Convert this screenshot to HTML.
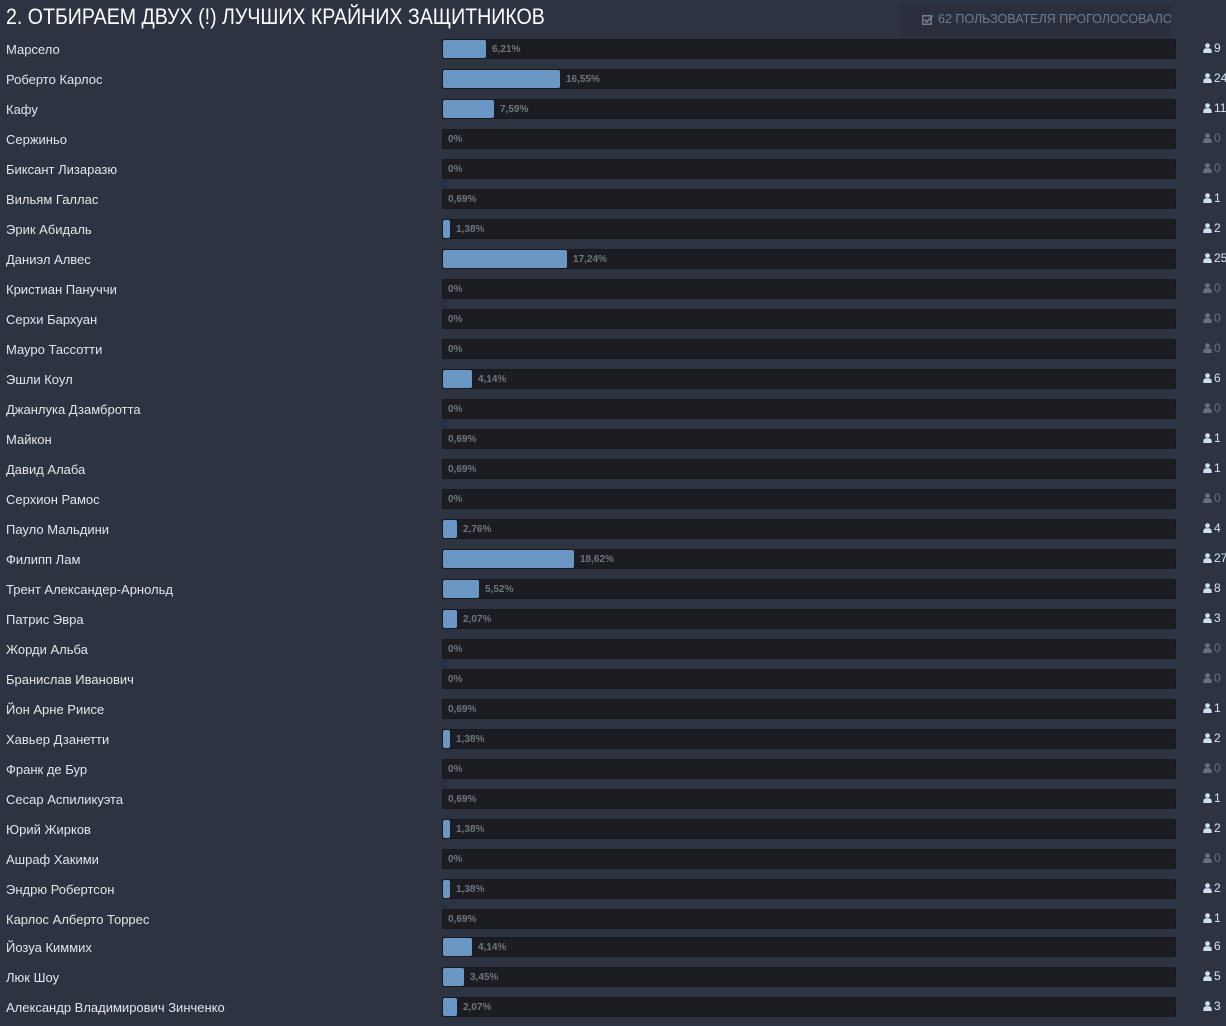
<!DOCTYPE html>
<html><head><meta charset="utf-8">
<style>
html,body{margin:0;padding:0;}
body{width:1226px;height:1026px;background:#2d3340;position:relative;overflow:hidden;font-family:"Liberation Sans","Noto Sans CJK SC",sans-serif;}
.title{position:absolute;left:6px;top:6px;font-size:22px;line-height:22px;color:#ffffff;white-space:nowrap;transform:scaleX(0.89);transform-origin:0 0;}
.box{position:absolute;left:900px;top:5px;width:271px;height:31px;background:#2a2f3b;overflow:hidden;}
.box .t{position:absolute;left:38px;top:6.5px;font-size:12.5px;line-height:14px;color:#6f7b8c;white-space:nowrap;}
.box svg{position:absolute;left:22px;top:9px;}
.row{position:absolute;left:0;width:1226px;height:20px;}
.lbl{position:absolute;left:6px;top:1px;font-size:13px;line-height:20px;color:#e2e5ea;white-space:nowrap;}
.bar{position:absolute;left:442px;top:0;width:734px;height:20px;background:#1c1d22;border-radius:2px;box-shadow:inset 0 0 0 1px #18191d;}
.fill{position:absolute;left:1px;top:1px;height:18px;background:#6b97c4;border-radius:2px;}
.pct{position:absolute;top:1px;font-size:10px;line-height:20px;font-weight:bold;color:#6f757e;white-space:nowrap;}
.cnt{position:absolute;left:1203px;top:-1px;width:23px;height:20px;font-size:12px;line-height:20px;white-space:nowrap;}
.cnt svg{position:absolute;left:0;top:5px;}
.cnt span{position:absolute;left:11px;top:0;}
.on{color:#d5e3f4;}
.on svg path,.on svg circle{fill:#cfdff2;}
.off{color:#6a707a;}
.off svg path,.off svg circle{fill:#6a707a;}
</style></head><body>
<div class="title">2. ОТБИРАЕМ ДВУХ (!) ЛУЧШИХ КРАЙНИХ ЗАЩИТНИКОВ</div>
<div class="box">
<svg width="12" height="11" viewBox="0 0 12 11"><rect x="0.75" y="1.75" width="8.5" height="8.5" fill="none" stroke="#6f7b8c" stroke-width="1.5"/><path d="M2.5 5.5 L4.8 8 L10.5 1.5" fill="none" stroke="#6f7b8c" stroke-width="1.8"/></svg>
<div class="t">62 ПОЛЬЗОВАТЕЛЯ ПРОГОЛОСОВАЛО</div>
</div>

<div class="row" style="top:39px"><div class="lbl">Марсело</div><div class="bar"><div class="fill" style="width:43px"></div></div><div class="pct" style="left:492px">6,21%</div><div class="cnt on"><svg width="9" height="10" viewBox="0 0 9 10"><circle cx="4.5" cy="2.6" r="2.4"/><path d="M0.3 10 L0.3 8 Q0.6 5.4 3 5.2 L6 5.2 Q8.4 5.4 8.7 8 L8.7 10 Z"/></svg><span>9</span></div></div>
<div class="row" style="top:69px"><div class="lbl">Роберто Карлос</div><div class="bar"><div class="fill" style="width:117px"></div></div><div class="pct" style="left:566px">16,55%</div><div class="cnt on"><svg width="9" height="10" viewBox="0 0 9 10"><circle cx="4.5" cy="2.6" r="2.4"/><path d="M0.3 10 L0.3 8 Q0.6 5.4 3 5.2 L6 5.2 Q8.4 5.4 8.7 8 L8.7 10 Z"/></svg><span>24</span></div></div>
<div class="row" style="top:99px"><div class="lbl">Кафу</div><div class="bar"><div class="fill" style="width:51px"></div></div><div class="pct" style="left:500px">7,59%</div><div class="cnt on"><svg width="9" height="10" viewBox="0 0 9 10"><circle cx="4.5" cy="2.6" r="2.4"/><path d="M0.3 10 L0.3 8 Q0.6 5.4 3 5.2 L6 5.2 Q8.4 5.4 8.7 8 L8.7 10 Z"/></svg><span>11</span></div></div>
<div class="row" style="top:129px"><div class="lbl">Сержиньо</div><div class="bar"></div><div class="pct" style="left:448px">0%</div><div class="cnt off"><svg width="9" height="10" viewBox="0 0 9 10"><circle cx="4.5" cy="2.6" r="2.4"/><path d="M0.3 10 L0.3 8 Q0.6 5.4 3 5.2 L6 5.2 Q8.4 5.4 8.7 8 L8.7 10 Z"/></svg><span>0</span></div></div>
<div class="row" style="top:159px"><div class="lbl">Биксант Лизаразю</div><div class="bar"></div><div class="pct" style="left:448px">0%</div><div class="cnt off"><svg width="9" height="10" viewBox="0 0 9 10"><circle cx="4.5" cy="2.6" r="2.4"/><path d="M0.3 10 L0.3 8 Q0.6 5.4 3 5.2 L6 5.2 Q8.4 5.4 8.7 8 L8.7 10 Z"/></svg><span>0</span></div></div>
<div class="row" style="top:189px"><div class="lbl">Вильям Галлас</div><div class="bar"></div><div class="pct" style="left:448px">0,69%</div><div class="cnt on"><svg width="9" height="10" viewBox="0 0 9 10"><circle cx="4.5" cy="2.6" r="2.4"/><path d="M0.3 10 L0.3 8 Q0.6 5.4 3 5.2 L6 5.2 Q8.4 5.4 8.7 8 L8.7 10 Z"/></svg><span>1</span></div></div>
<div class="row" style="top:219px"><div class="lbl">Эрик Абидаль</div><div class="bar"><div class="fill" style="width:7px"></div></div><div class="pct" style="left:456px">1,38%</div><div class="cnt on"><svg width="9" height="10" viewBox="0 0 9 10"><circle cx="4.5" cy="2.6" r="2.4"/><path d="M0.3 10 L0.3 8 Q0.6 5.4 3 5.2 L6 5.2 Q8.4 5.4 8.7 8 L8.7 10 Z"/></svg><span>2</span></div></div>
<div class="row" style="top:249px"><div class="lbl">Даниэл Алвес</div><div class="bar"><div class="fill" style="width:124px"></div></div><div class="pct" style="left:573px">17,24%</div><div class="cnt on"><svg width="9" height="10" viewBox="0 0 9 10"><circle cx="4.5" cy="2.6" r="2.4"/><path d="M0.3 10 L0.3 8 Q0.6 5.4 3 5.2 L6 5.2 Q8.4 5.4 8.7 8 L8.7 10 Z"/></svg><span>25</span></div></div>
<div class="row" style="top:279px"><div class="lbl">Кристиан Пануччи</div><div class="bar"></div><div class="pct" style="left:448px">0%</div><div class="cnt off"><svg width="9" height="10" viewBox="0 0 9 10"><circle cx="4.5" cy="2.6" r="2.4"/><path d="M0.3 10 L0.3 8 Q0.6 5.4 3 5.2 L6 5.2 Q8.4 5.4 8.7 8 L8.7 10 Z"/></svg><span>0</span></div></div>
<div class="row" style="top:309px"><div class="lbl">Серхи Бархуан</div><div class="bar"></div><div class="pct" style="left:448px">0%</div><div class="cnt off"><svg width="9" height="10" viewBox="0 0 9 10"><circle cx="4.5" cy="2.6" r="2.4"/><path d="M0.3 10 L0.3 8 Q0.6 5.4 3 5.2 L6 5.2 Q8.4 5.4 8.7 8 L8.7 10 Z"/></svg><span>0</span></div></div>
<div class="row" style="top:339px"><div class="lbl">Мауро Тассотти</div><div class="bar"></div><div class="pct" style="left:448px">0%</div><div class="cnt off"><svg width="9" height="10" viewBox="0 0 9 10"><circle cx="4.5" cy="2.6" r="2.4"/><path d="M0.3 10 L0.3 8 Q0.6 5.4 3 5.2 L6 5.2 Q8.4 5.4 8.7 8 L8.7 10 Z"/></svg><span>0</span></div></div>
<div class="row" style="top:369px"><div class="lbl">Эшли Коул</div><div class="bar"><div class="fill" style="width:29px"></div></div><div class="pct" style="left:478px">4,14%</div><div class="cnt on"><svg width="9" height="10" viewBox="0 0 9 10"><circle cx="4.5" cy="2.6" r="2.4"/><path d="M0.3 10 L0.3 8 Q0.6 5.4 3 5.2 L6 5.2 Q8.4 5.4 8.7 8 L8.7 10 Z"/></svg><span>6</span></div></div>
<div class="row" style="top:399px"><div class="lbl">Джанлука Дзамбротта</div><div class="bar"></div><div class="pct" style="left:448px">0%</div><div class="cnt off"><svg width="9" height="10" viewBox="0 0 9 10"><circle cx="4.5" cy="2.6" r="2.4"/><path d="M0.3 10 L0.3 8 Q0.6 5.4 3 5.2 L6 5.2 Q8.4 5.4 8.7 8 L8.7 10 Z"/></svg><span>0</span></div></div>
<div class="row" style="top:429px"><div class="lbl">Майкон</div><div class="bar"></div><div class="pct" style="left:448px">0,69%</div><div class="cnt on"><svg width="9" height="10" viewBox="0 0 9 10"><circle cx="4.5" cy="2.6" r="2.4"/><path d="M0.3 10 L0.3 8 Q0.6 5.4 3 5.2 L6 5.2 Q8.4 5.4 8.7 8 L8.7 10 Z"/></svg><span>1</span></div></div>
<div class="row" style="top:459px"><div class="lbl">Давид Алаба</div><div class="bar"></div><div class="pct" style="left:448px">0,69%</div><div class="cnt on"><svg width="9" height="10" viewBox="0 0 9 10"><circle cx="4.5" cy="2.6" r="2.4"/><path d="M0.3 10 L0.3 8 Q0.6 5.4 3 5.2 L6 5.2 Q8.4 5.4 8.7 8 L8.7 10 Z"/></svg><span>1</span></div></div>
<div class="row" style="top:489px"><div class="lbl">Серхион Рамос</div><div class="bar"></div><div class="pct" style="left:448px">0%</div><div class="cnt off"><svg width="9" height="10" viewBox="0 0 9 10"><circle cx="4.5" cy="2.6" r="2.4"/><path d="M0.3 10 L0.3 8 Q0.6 5.4 3 5.2 L6 5.2 Q8.4 5.4 8.7 8 L8.7 10 Z"/></svg><span>0</span></div></div>
<div class="row" style="top:519px"><div class="lbl">Пауло Мальдини</div><div class="bar"><div class="fill" style="width:14px"></div></div><div class="pct" style="left:463px">2,76%</div><div class="cnt on"><svg width="9" height="10" viewBox="0 0 9 10"><circle cx="4.5" cy="2.6" r="2.4"/><path d="M0.3 10 L0.3 8 Q0.6 5.4 3 5.2 L6 5.2 Q8.4 5.4 8.7 8 L8.7 10 Z"/></svg><span>4</span></div></div>
<div class="row" style="top:549px"><div class="lbl">Филипп Лам</div><div class="bar"><div class="fill" style="width:131px"></div></div><div class="pct" style="left:580px">18,62%</div><div class="cnt on"><svg width="9" height="10" viewBox="0 0 9 10"><circle cx="4.5" cy="2.6" r="2.4"/><path d="M0.3 10 L0.3 8 Q0.6 5.4 3 5.2 L6 5.2 Q8.4 5.4 8.7 8 L8.7 10 Z"/></svg><span>27</span></div></div>
<div class="row" style="top:579px"><div class="lbl">Трент Александер-Арнольд</div><div class="bar"><div class="fill" style="width:36px"></div></div><div class="pct" style="left:485px">5,52%</div><div class="cnt on"><svg width="9" height="10" viewBox="0 0 9 10"><circle cx="4.5" cy="2.6" r="2.4"/><path d="M0.3 10 L0.3 8 Q0.6 5.4 3 5.2 L6 5.2 Q8.4 5.4 8.7 8 L8.7 10 Z"/></svg><span>8</span></div></div>
<div class="row" style="top:609px"><div class="lbl">Патрис Эвра</div><div class="bar"><div class="fill" style="width:14px"></div></div><div class="pct" style="left:463px">2,07%</div><div class="cnt on"><svg width="9" height="10" viewBox="0 0 9 10"><circle cx="4.5" cy="2.6" r="2.4"/><path d="M0.3 10 L0.3 8 Q0.6 5.4 3 5.2 L6 5.2 Q8.4 5.4 8.7 8 L8.7 10 Z"/></svg><span>3</span></div></div>
<div class="row" style="top:639px"><div class="lbl">Жорди Альба</div><div class="bar"></div><div class="pct" style="left:448px">0%</div><div class="cnt off"><svg width="9" height="10" viewBox="0 0 9 10"><circle cx="4.5" cy="2.6" r="2.4"/><path d="M0.3 10 L0.3 8 Q0.6 5.4 3 5.2 L6 5.2 Q8.4 5.4 8.7 8 L8.7 10 Z"/></svg><span>0</span></div></div>
<div class="row" style="top:669px"><div class="lbl">Бранислав Иванович</div><div class="bar"></div><div class="pct" style="left:448px">0%</div><div class="cnt off"><svg width="9" height="10" viewBox="0 0 9 10"><circle cx="4.5" cy="2.6" r="2.4"/><path d="M0.3 10 L0.3 8 Q0.6 5.4 3 5.2 L6 5.2 Q8.4 5.4 8.7 8 L8.7 10 Z"/></svg><span>0</span></div></div>
<div class="row" style="top:699px"><div class="lbl">Йон Арне Риисе</div><div class="bar"></div><div class="pct" style="left:448px">0,69%</div><div class="cnt on"><svg width="9" height="10" viewBox="0 0 9 10"><circle cx="4.5" cy="2.6" r="2.4"/><path d="M0.3 10 L0.3 8 Q0.6 5.4 3 5.2 L6 5.2 Q8.4 5.4 8.7 8 L8.7 10 Z"/></svg><span>1</span></div></div>
<div class="row" style="top:729px"><div class="lbl">Хавьер Дзанетти</div><div class="bar"><div class="fill" style="width:7px"></div></div><div class="pct" style="left:456px">1,38%</div><div class="cnt on"><svg width="9" height="10" viewBox="0 0 9 10"><circle cx="4.5" cy="2.6" r="2.4"/><path d="M0.3 10 L0.3 8 Q0.6 5.4 3 5.2 L6 5.2 Q8.4 5.4 8.7 8 L8.7 10 Z"/></svg><span>2</span></div></div>
<div class="row" style="top:759px"><div class="lbl">Франк де Бур</div><div class="bar"></div><div class="pct" style="left:448px">0%</div><div class="cnt off"><svg width="9" height="10" viewBox="0 0 9 10"><circle cx="4.5" cy="2.6" r="2.4"/><path d="M0.3 10 L0.3 8 Q0.6 5.4 3 5.2 L6 5.2 Q8.4 5.4 8.7 8 L8.7 10 Z"/></svg><span>0</span></div></div>
<div class="row" style="top:789px"><div class="lbl">Сесар Аспиликуэта</div><div class="bar"></div><div class="pct" style="left:448px">0,69%</div><div class="cnt on"><svg width="9" height="10" viewBox="0 0 9 10"><circle cx="4.5" cy="2.6" r="2.4"/><path d="M0.3 10 L0.3 8 Q0.6 5.4 3 5.2 L6 5.2 Q8.4 5.4 8.7 8 L8.7 10 Z"/></svg><span>1</span></div></div>
<div class="row" style="top:819px"><div class="lbl">Юрий Жирков</div><div class="bar"><div class="fill" style="width:7px"></div></div><div class="pct" style="left:456px">1,38%</div><div class="cnt on"><svg width="9" height="10" viewBox="0 0 9 10"><circle cx="4.5" cy="2.6" r="2.4"/><path d="M0.3 10 L0.3 8 Q0.6 5.4 3 5.2 L6 5.2 Q8.4 5.4 8.7 8 L8.7 10 Z"/></svg><span>2</span></div></div>
<div class="row" style="top:849px"><div class="lbl">Ашраф Хакими</div><div class="bar"></div><div class="pct" style="left:448px">0%</div><div class="cnt off"><svg width="9" height="10" viewBox="0 0 9 10"><circle cx="4.5" cy="2.6" r="2.4"/><path d="M0.3 10 L0.3 8 Q0.6 5.4 3 5.2 L6 5.2 Q8.4 5.4 8.7 8 L8.7 10 Z"/></svg><span>0</span></div></div>
<div class="row" style="top:879px"><div class="lbl">Эндрю Робертсон</div><div class="bar"><div class="fill" style="width:7px"></div></div><div class="pct" style="left:456px">1,38%</div><div class="cnt on"><svg width="9" height="10" viewBox="0 0 9 10"><circle cx="4.5" cy="2.6" r="2.4"/><path d="M0.3 10 L0.3 8 Q0.6 5.4 3 5.2 L6 5.2 Q8.4 5.4 8.7 8 L8.7 10 Z"/></svg><span>2</span></div></div>
<div class="row" style="top:909px"><div class="lbl">Карлос Алберто Торрес</div><div class="bar"></div><div class="pct" style="left:448px">0,69%</div><div class="cnt on"><svg width="9" height="10" viewBox="0 0 9 10"><circle cx="4.5" cy="2.6" r="2.4"/><path d="M0.3 10 L0.3 8 Q0.6 5.4 3 5.2 L6 5.2 Q8.4 5.4 8.7 8 L8.7 10 Z"/></svg><span>1</span></div></div>
<div class="row" style="top:937px"><div class="lbl">Йозуа Киммих</div><div class="bar"><div class="fill" style="width:29px"></div></div><div class="pct" style="left:478px">4,14%</div><div class="cnt on"><svg width="9" height="10" viewBox="0 0 9 10"><circle cx="4.5" cy="2.6" r="2.4"/><path d="M0.3 10 L0.3 8 Q0.6 5.4 3 5.2 L6 5.2 Q8.4 5.4 8.7 8 L8.7 10 Z"/></svg><span>6</span></div></div>
<div class="row" style="top:967px"><div class="lbl">Люк Шоу</div><div class="bar"><div class="fill" style="width:21px"></div></div><div class="pct" style="left:470px">3,45%</div><div class="cnt on"><svg width="9" height="10" viewBox="0 0 9 10"><circle cx="4.5" cy="2.6" r="2.4"/><path d="M0.3 10 L0.3 8 Q0.6 5.4 3 5.2 L6 5.2 Q8.4 5.4 8.7 8 L8.7 10 Z"/></svg><span>5</span></div></div>
<div class="row" style="top:997px"><div class="lbl">Александр Владимирович Зинченко</div><div class="bar"><div class="fill" style="width:14px"></div></div><div class="pct" style="left:463px">2,07%</div><div class="cnt on"><svg width="9" height="10" viewBox="0 0 9 10"><circle cx="4.5" cy="2.6" r="2.4"/><path d="M0.3 10 L0.3 8 Q0.6 5.4 3 5.2 L6 5.2 Q8.4 5.4 8.7 8 L8.7 10 Z"/></svg><span>3</span></div></div>
</body></html>
